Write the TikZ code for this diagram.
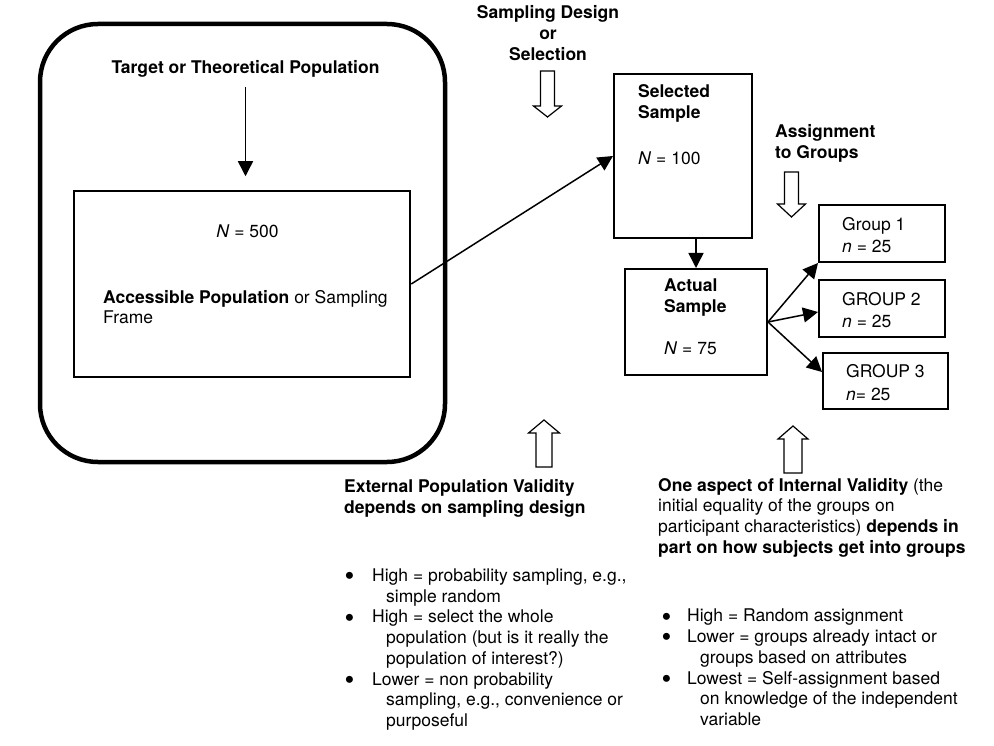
\documentclass[tikz,border=0pt]{standalone}
\usepackage{fontspec}
\usepackage{graphicx}
\setmainfont{TeX Gyre Heros}
\usetikzlibrary{arrows.meta}
\newcommand{\bodyfont}{\fontsize{17.5pt}{20.7pt}\selectfont}
\newcommand{\bigdot}{\raisebox{-4.2pt}{\scalebox{1.6}{\textbullet}}}
\tikzstyle{frameBox} = [rectangle, draw, line width=4.5pt, rounded corners=58pt]
\tikzstyle{myBox} = [rectangle, draw, line width=2pt, inner sep=0pt]
\tikzstyle{txt} = [inner sep=0pt, align=left, font=\bodyfont]
\tikzstyle{txtbold} = [inner sep=0pt, align=left, font=\bodyfont\bfseries]
\tikzstyle{arr} = [-{Triangle[width=15pt,length=15pt]}, line width=1.5pt]
\tikzstyle{hollow} = [line width=1.2pt, fill=white]

\begin{document}
\begin{tikzpicture}[x=1pt, y=-1pt]
\useasboundingbox (0,0) rectangle (994,746);

% population
\node [frameBox, minimum width=405pt, minimum height=438pt] (frame) at (242.5,243) {};
\node [txtbold] (target) at (245.5,69) {Target or Theoretical Population};
\node [myBox, minimum width=336.5pt, minimum height=185.5pt] (access) at (242,284) {};
\node [txt] (accN) at (247.5,231) {\textit{N} = 500};
\node [txt, anchor=west] (acctext) at (103,307) {\textbf{Accessible Population} or Sampling\\Frame};

% samples
\node [txtbold, align=center] (design) at (548,33) {Sampling Design\\or\\Selection};
\node [myBox, minimum width=138pt, minimum height=164pt] (sel) at (683,156) {};
\node [txtbold, anchor=west] (seltext) at (638,103.5) {Selected\\Sample};
\node [txt, anchor=west] (selN) at (638,158) {\textit{N} = 100};
\node [myBox, minimum width=142pt, minimum height=106pt] (act) at (696,322) {};
\node [txtbold, anchor=west] (acttext) at (664,297.5) {Actual\\Sample};
\node [txt, anchor=west] (actN) at (664,348) {\textit{N} = 75};

% groups
\node [txtbold, anchor=west] (assign) at (775,143.5) {Assignment\\to Groups};
\node [myBox, minimum width=126pt, minimum height=57pt] (g1) at (882,233.5) {};
\node [myBox, minimum width=126pt, minimum height=57pt] (g2) at (882,308.5) {};
\node [myBox, minimum width=125pt, minimum height=56pt] (g3) at (885.5,381) {};
\node [txt, anchor=west] (g1text) at ([xshift=24pt,yshift=-1.5pt]g1.west) {Group 1\\[2pt]\textit{n} = 25};
\node [txt, anchor=west] (g2text) at ([xshift=24pt,yshift=-1.5pt]g2.west) {GROUP 2\\[2pt]\textit{n} = 25};
\node [txt, anchor=west] (g3text) at ([xshift=24pt,yshift=-1.5pt]g3.west) {GROUP 3\\[2pt]\textit{n}= 25};

% connectors
\draw [arr, shorten <=9pt, shorten >=14pt] (target) -- (target |- access.north);
\draw [arr] (access.east) -- (sel.west);
\draw [arr] (act.north |- sel.south) -- (act.north);
\draw [arr] (act.east) -- (g1.south west);
\draw [arr] (act.east) -- ([yshift=-3.5pt]g2.west);
\draw [arr] (act.east) -- ([yshift=9pt]g3.west);

% open arrows
\foreach \cx/\ya/\yh/\yb/\sw/\hw in {547.5/71/106/117/7/14, 791.5/172/204/217/7/14, 544/467/433/420/8/15.5, 793/473/439/426/9/15}
  \draw [hollow] (\cx-\sw,\ya) -- (\cx-\sw,\yh) -- (\cx-\hw,\yh) -- (\cx,\yb) -- (\cx+\hw,\yh) -- (\cx+\sw,\yh) -- (\cx+\sw,\ya) -- cycle;

% validity
\node [txtbold, anchor=west] (extval) at (344,498.5) {External Population Validity\\depends on sampling design};
\node [txt, anchor=west] (extlist) at (344.5,649.5) {%
\makebox[27.5pt][l]{\bigdot}High = probability sampling, e.g.,\\
\hspace*{41.5pt}simple random\\
\makebox[27.5pt][l]{\bigdot}High = select the whole\\
\hspace*{41.5pt}population (but is it really the\\
\hspace*{41.5pt}population of interest?)\\
\makebox[27.5pt][l]{\bigdot}Lower = non probability\\
\hspace*{41.5pt}sampling, e.g., convenience or\\
\hspace*{41.5pt}purposeful};
\node [txt, anchor=west] (intval) at (658,517.5) {\textbf{One aspect of Internal Validity} (the\\initial equality of the groups on\\participant characteristics) \textbf{depends in}\\\textbf{part on how subjects get into groups}};
\node [txt, anchor=west] (intlist) at (661.5,667.4) {%
\makebox[25.5pt][l]{\bigdot}High = Random assignment\\
\makebox[25.5pt][l]{\bigdot}Lower = groups already intact or\\
\hspace*{38.5pt}groups based on attributes\\
\makebox[25.5pt][l]{\bigdot}Lowest = Self-assignment based\\
\hspace*{38.5pt}on knowledge of the independent\\
\hspace*{38.5pt}variable};
\end{tikzpicture}
\end{document}
